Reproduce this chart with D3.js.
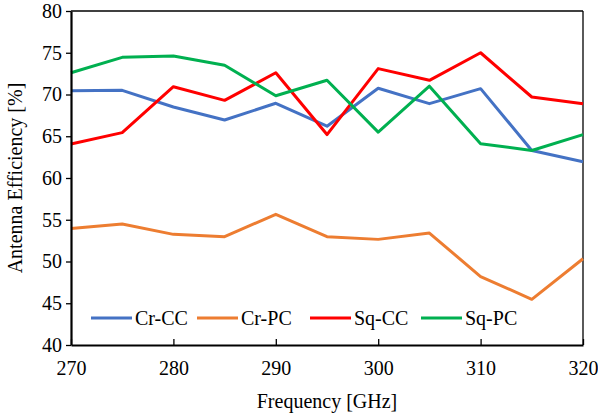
<!DOCTYPE html>
<html>
<head>
<meta charset="utf-8">
<script src="https://cdn.jsdelivr.net/npm/d3@7"></script>
<style>
  body { margin: 0; background: #fff; }
  text { font-family: "Liberation Serif", "Times New Roman", serif; fill: #000; }
</style>
</head>
<body>
<div id="chart"></div>
<script>
// data
var freq = [270, 275, 280, 285, 290, 295, 300, 305, 310, 315, 320];
var crCC = [70.45, 70.5, 68.5, 66.95, 68.95, 66.2, 70.75, 68.9, 70.7, 63.3, 61.95];
var crPC = [53.95, 54.5, 53.25, 52.97, 55.65, 52.97, 52.65, 53.4, 48.2, 45.47, 50.33];
var sqCC = [64.07, 65.43, 70.93, 69.3, 72.6, 65.2, 73.1, 71.7, 75.0, 69.7, 68.9];
var sqPC = [72.6, 74.45, 74.6, 73.5, 69.85, 71.7, 65.5, 71.0, 64.1, 63.3, 65.2];
var seriesNames = ["Cr-CC", "Cr-PC", "Sq-CC", "Sq-PC"];
var seriesColors = ["#4472C4", "#ED7D31", "#FF0000", "#00B050"];
var xTicks = [270, 280, 290, 300, 310, 320];
var yTicks = [40, 45, 50, 55, 60, 65, 70, 75, 80];

var width = 598, height = 416;
var margin = { top: 11, right: 15, bottom: 71, left: 71 };
var w = width - margin.left - margin.right,
    h = height - margin.top - margin.bottom;
var fontSize = "20px";

var svg = d3.select("#chart").append("svg")
    .attr("width", width)
    .attr("height", height);

var g = svg.append("g")
    .attr("transform", "translate(" + margin.left + "," + margin.top + ")");

var x = d3.scaleLinear().domain([270, 320]).range([0, w]);
var y = d3.scaleLinear().domain([40, 80]).range([h, 0]);

// frame: top and right thin
g.append("line").attr("x1", 0).attr("x2", w).attr("y1", 0).attr("y2", 0)
    .attr("stroke", "#000").attr("stroke-width", 1.3);
g.append("line").attr("x1", w).attr("x2", w).attr("y1", 0).attr("y2", h)
    .attr("stroke", "#000").attr("stroke-width", 1.3);

// lines
var allSeries = [crCC, crPC, sqCC, sqPC];
var line = d3.line()
    .x(function (d, i) { return x(freq[i]); })
    .y(function (d) { return y(d); });

allSeries.forEach(function (s, k) {
    g.append("path")
        .datum(s)
        .attr("d", line)
        .attr("fill", "none")
        .attr("stroke", seriesColors[k])
        .attr("stroke-width", 3)
        .attr("stroke-linejoin", "round");
});

// x axis, ticks pointing inward
var xAxis = g.append("g")
    .attr("transform", "translate(0," + h + ")")
    .call(d3.axisBottom(x).tickValues(xTicks).tickSizeInner(-6).tickSizeOuter(0).tickPadding(16));
xAxis.attr("font-family", null);
xAxis.select(".domain").attr("stroke-width", 2.2);
xAxis.selectAll(".tick line").attr("stroke-width", 1.3);
xAxis.selectAll("text").style("font-size", fontSize).attr("fill", "#000");

// y axis, ticks pointing outward
var yAxis = g.append("g")
    .call(d3.axisLeft(y).tickValues(yTicks).tickSizeInner(5).tickSizeOuter(0).tickPadding(4));
yAxis.attr("font-family", null);
yAxis.select(".domain").attr("stroke-width", 2.2);
yAxis.selectAll(".tick line").attr("stroke-width", 1.3);
yAxis.selectAll("text").style("font-size", fontSize).attr("fill", "#000");

// axis titles
svg.append("text")
    .attr("x", margin.left + w / 2)
    .attr("y", 408)
    .attr("text-anchor", "middle")
    .style("font-size", fontSize)
    .text("Frequency [GHz]");

svg.append("text")
    .attr("transform", "translate(22," + (margin.top + h / 2) + ") rotate(-90)")
    .attr("text-anchor", "middle")
    .style("font-size", fontSize)
    .text("Antenna Efficiency [%]");

// legend
var legendX = [20, 126, 239, 350];
var legend = g.append("g").attr("transform", "translate(0,307)");
seriesNames.forEach(function (name, k) {
    var lg = legend.append("g").attr("transform", "translate(" + legendX[k] + ",0)");
    lg.append("line").attr("x1", 0).attr("x2", 41).attr("y1", 0).attr("y2", 0)
        .attr("stroke", seriesColors[k]).attr("stroke-width", 3);
    lg.append("text").attr("x", 44).attr("y", 7)
        .style("font-size", fontSize)
        .text(name);
});
</script>
</body>
</html>
